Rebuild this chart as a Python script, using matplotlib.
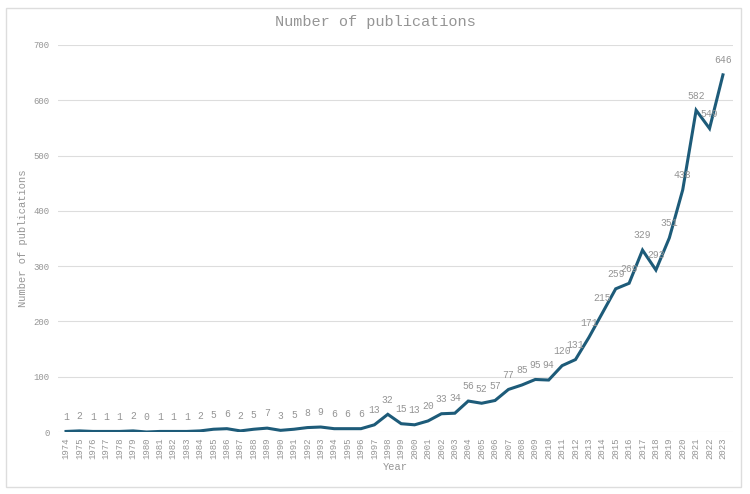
import matplotlib
matplotlib.use("Agg")
from matplotlib import pyplot as plt
from matplotlib.patches import Rectangle

# publications per year
YEARS = list(range(1974, 2024))
COUNTS = [1, 2, 1, 1, 1, 2, 0, 1, 1, 1,
          2, 5, 6, 2, 5, 7, 3, 5, 8, 9,
          6, 6, 6, 13, 32, 15, 13, 20, 33, 34,
          56, 52, 57, 77, 85, 95, 94, 120, 131, 171,
          215, 259, 269, 329, 293, 351, 438, 582, 549, 646]
Y_TICKS = [0, 100, 200, 300, 400, 500, 600, 700]

LINE_COLOR = '#1d5b79'
TEXT_COLOR = '#959595'
GRID_COLOR = '#dddddd'

plt.rcParams['font.family'] = ['Liberation Mono', 'DejaVu Sans Mono']

fig = plt.figure(figsize=(7.5, 4.94), dpi=100)
fig.patches.append(Rectangle((6 / 750, 1 - 487 / 494), 735 / 750, 479 / 494,
                             transform=fig.transFigure, fill=False,
                             edgecolor=GRID_COLOR, linewidth=1))
ax = fig.add_axes([58 / 750, 1 - 432 / 494, 675 / 750, 387 / 494])

x = list(range(len(YEARS)))
ax.plot(x, COUNTS, color=LINE_COLOR, linewidth=2.2, solid_joinstyle='miter')
for xi, c in zip(x, COUNTS):
    ax.annotate(str(c), (xi, c), xytext=(0, 7), textcoords='offset points',
                ha='center', va='bottom', fontsize=7, color=TEXT_COLOR)

ax.set_ylim(0, 700)
ax.set_xlim(-0.6, len(YEARS) - 0.25)
ax.set_yticks(Y_TICKS)
ax.set_xticks(x)
ax.set_xticklabels([str(y) for y in YEARS], rotation=90)
ax.tick_params(axis='both', length=0, labelsize=6.5, colors=TEXT_COLOR)
ax.tick_params(axis='y', pad=6)
ax.tick_params(axis='x', pad=4)
ax.grid(axis='y', color=GRID_COLOR, linewidth=0.8)
ax.set_axisbelow(True)
for s in ax.spines.values():
    s.set_visible(False)

ax.set_xlabel('Year', fontsize=7.5, color=TEXT_COLOR, labelpad=2)
ax.set_ylabel('Number of publications', fontsize=7.5, color=TEXT_COLOR, labelpad=4)
fig.text(0.5, 1 - 22 / 494, 'Number of publications', ha='center', va='center',
         fontsize=11, color=TEXT_COLOR)

fig.savefig('out.png', dpi=100)
